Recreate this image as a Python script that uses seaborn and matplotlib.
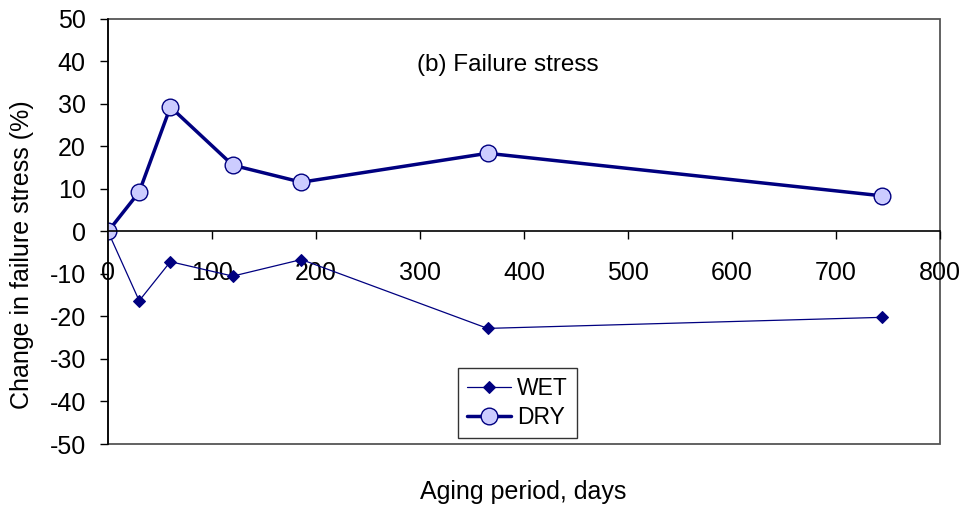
import numpy as np
import pandas as pd
import matplotlib
matplotlib.use("Agg")
import matplotlib.pyplot as plt
import seaborn as sns
from matplotlib.patches import Rectangle

# Data
days = [0, 30, 60, 120, 186, 365, 744]
wet = [0, -16.3, -7.1, -10.5, -6.6, -22.8, -20.2]
dry = [0, 9.3, 29.3, 15.6, 11.6, 18.4, 8.4]

x_ticks = list(range(0, 801, 100))
y_ticks = list(range(-50, 51, 10))

sns.set_theme(style="white", rc={"text.color": "black", "axes.labelcolor": "black",
                                 "xtick.color": "black", "ytick.color": "black"})
plt.rcParams["font.family"] = ["Liberation Sans", "DejaVu Sans"]
plt.rcParams["axes.unicode_minus"] = False

navy = "#000080"

fig, ax = plt.subplots(figsize=(9.66, 5.09), dpi=100)
fig.subplots_adjust(left=0.1118, right=0.973, top=0.9627, bottom=0.1277)

sns.lineplot(x=days, y=wet, ax=ax, color=navy, linewidth=0.9,
             marker="D", markersize=6, markerfacecolor=navy,
             markeredgecolor=navy, label="WET")
sns.lineplot(x=days, y=dry, ax=ax, color=navy, linewidth=2.5,
             marker="o", markersize=12, markerfacecolor="#ccccff",
             markeredgecolor=navy, markeredgewidth=1.0, label="DRY")

ax.set_xlim(0, 800)
ax.set_ylim(-50, 50)
ax.set_xticks(x_ticks)
ax.set_yticks(y_ticks)

# axis through zero like the original spreadsheet chart
for s in ["top", "right"]:
    ax.spines[s].set_visible(False)
ax.spines["left"].set_color("black")
ax.spines["left"].set_linewidth(1.2)
ax.spines["bottom"].set_position(("data", 0))
ax.spines["bottom"].set_color("black")
ax.spines["bottom"].set_linewidth(1.2)
ax.add_patch(Rectangle((0, 0), 1, 1, transform=ax.transAxes, fill=False,
                       edgecolor="#555555", linewidth=1.3, clip_on=False, zorder=0))

ax.tick_params(axis="both", which="major", labelsize=18, colors="black",
               direction="out", length=6, width=1, left=True, bottom=True)
ax.tick_params(axis="y", pad=10)
ax.tick_params(axis="x", pad=15)

ax.set_ylabel("Change in failure stress (%)", fontsize=18)
ax.yaxis.set_label_coords(-0.089, 0.445)
ax.set_xlabel("Aging period, days", fontsize=18)
ax.xaxis.set_label_coords(0.499, -0.085)

ax.text(0.481, 0.892, "(b) Failure stress", transform=ax.transAxes,
        ha="center", va="center", fontsize=17.5)

leg = ax.legend(loc="lower left", bbox_to_anchor=(0.421, 0.014),
                borderaxespad=0, fontsize=16.5, frameon=True, fancybox=False,
                handlelength=1.9, handletextpad=0.25, borderpad=0.4,
                labelspacing=0.25)
leg.get_frame().set_edgecolor("black")
leg.get_frame().set_linewidth(1.0)

fig.savefig("out.png", dpi=100, facecolor="white")
